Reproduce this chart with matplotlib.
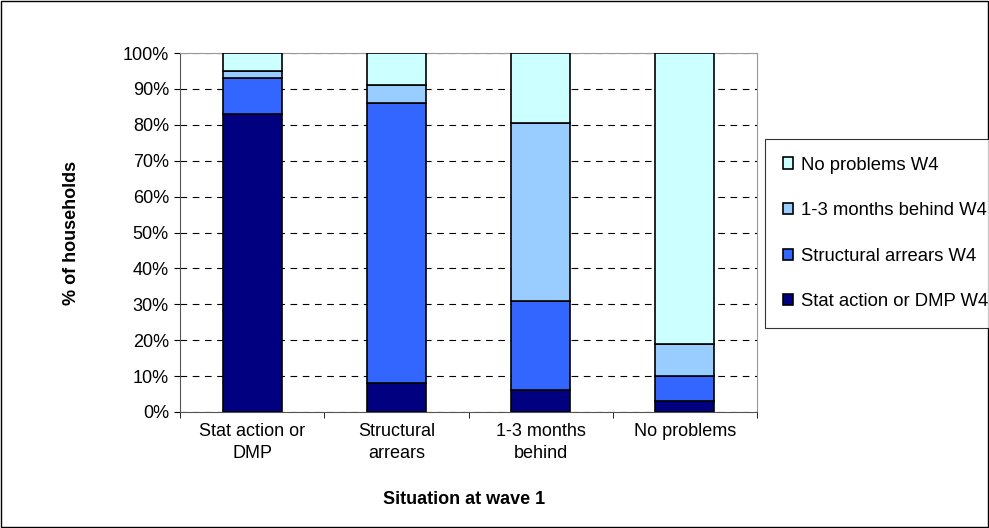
import numpy as np
import matplotlib.pyplot as plt
from matplotlib.patches import Rectangle

plt.rcParams['font.family'] = ['Liberation Sans', 'DejaVu Sans']

categories = ["Stat action or\nDMP", "Structural\narrears", "1-3 months\nbehind", "No problems"]
series_names = ["Stat action or DMP W4", "Structural arrears W4", "1-3 months behind W4", "No problems W4"]
stat_action = [83, 8, 6, 3]
structural = [10, 78, 25, 7]
behind = [2, 5, 49.5, 9]
no_problems = [5, 9, 19.5, 81]
colors = ["#000080", "#3366FF", "#99CCFF", "#CCFFFF"]

fs = 13

fig = plt.figure(figsize=(9.89, 5.28), dpi=100)
ax = fig.add_axes([180 / 989, 1 - 412 / 528, 577 / 989, 359 / 528])

x = np.arange(len(categories))
bottom = np.zeros(len(categories))
handles = []
for vals, name, col in zip([stat_action, structural, behind, no_problems], series_names, colors):
    b = ax.bar(x, vals, 0.41, bottom=bottom, color=col, edgecolor="black", linewidth=1.2, label=name, zorder=3)
    handles.append(b)
    bottom += np.array(vals)

ax.set_xlim(-0.5, 3.5)
ax.set_ylim(0, 100)
ax.set_yticks(np.arange(0, 101, 10))
ax.set_yticklabels([f"{v}%" for v in range(0, 101, 10)], fontsize=fs)
ax.set_xticks(x)
ax.set_xticklabels(categories, fontsize=fs, linespacing=1.4)
ax.set_xticks(np.arange(-0.5, 3.6, 1), minor=True)
ax.tick_params(axis="x", which="major", length=0, pad=8)
ax.tick_params(axis="x", which="minor", length=4, color="black")
ax.tick_params(axis="y", length=4, color="black", pad=4)
ax.yaxis.grid(True, linestyle=(0, (6, 5)), color="black", linewidth=0.8, zorder=0)
ax.set_axisbelow(True)
for s in ["top", "right"]:
    ax.spines[s].set_color("#999999")
ax.spines["left"].set_color("#555555")
ax.spines["bottom"].set_color("#555555")

fig.text(71 / 989, 1 - 233 / 528, "% of households", fontsize=fs, fontweight="bold",
         rotation=90, ha="center", va="center")
fig.text(464 / 989, 1 - 499 / 528, "Situation at wave 1", fontsize=fs, fontweight="bold",
         ha="center", va="center")

leg = fig.legend(handles[::-1], series_names[::-1], loc="upper left",
                 bbox_to_anchor=(765 / 989, 1 - 139 / 528), fontsize=fs + 0.3,
                 frameon=True, fancybox=False, edgecolor="black", labelspacing=1.55,
                 handlelength=0.55, handleheight=0.55, handletextpad=0.45, borderpad=0.95, borderaxespad=0)
leg.get_frame().set_linewidth(0.8)

fig.patches.append(Rectangle((0.001, 0.001), 0.998, 0.998, transform=fig.transFigure,
                             fill=False, edgecolor="black", linewidth=1))

fig.savefig("out.png", dpi=100)
